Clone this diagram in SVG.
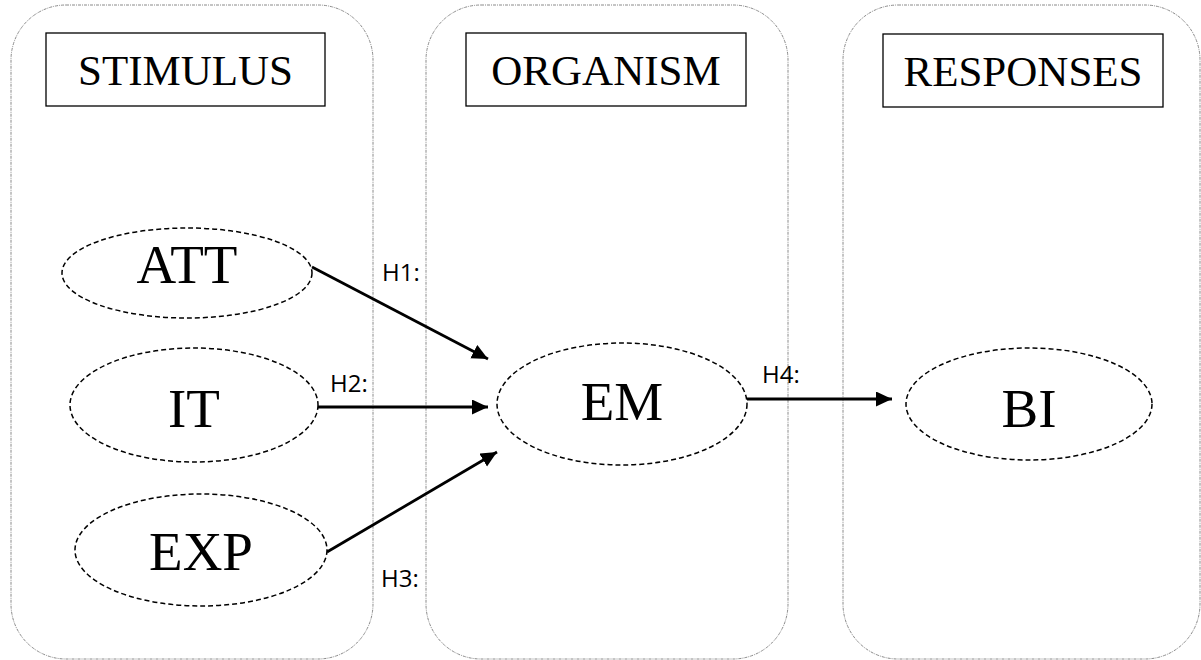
<svg xmlns="http://www.w3.org/2000/svg" width="1201" height="660" viewBox="0 0 1201 660">
<style>
.panel{fill:none;stroke:#8a8a8a;stroke-width:1;stroke-dasharray:3 1 1 1}
.tbox{fill:#fff;stroke:#000;stroke-width:1.3}
.ttl{font-family:"Liberation Serif",serif;font-size:43px;fill:#000;text-anchor:middle}
.ell{fill:#fff;stroke:#000;stroke-width:1.5;stroke-dasharray:5 3}
.lbl{font-family:"Liberation Serif",serif;font-size:55px;fill:#000;text-anchor:middle}
.arr{stroke:#000;stroke-width:2.8;fill:none;marker-end:url(#ah)}
.h{font-family:"Open Sans",sans-serif;font-size:24px;fill:#000}
</style>
<defs>
<marker id="ah" markerUnits="userSpaceOnUse" markerWidth="17" markerHeight="16" refX="16" refY="7.5" orient="auto">
<path d="M0,0 L16,7.5 L0,15 z" fill="#000"/>
</marker>
</defs>
<rect width="1201" height="660" fill="#fff"/>
<g id="panels">
<rect class="panel" x="11" y="5" width="362" height="654" rx="55" ry="55"/>
<rect class="panel" x="426" y="5" width="362" height="654" rx="55" ry="55"/>
<rect class="panel" x="843" y="5" width="357" height="654" rx="55" ry="55"/>
</g>
<g id="title-stimulus">
<rect class="tbox" x="46" y="33" width="279" height="73"/>
<text class="ttl" x="185.5" y="85">STIMULUS</text>
</g>
<g id="title-organism">
<rect class="tbox" x="466" y="33" width="280" height="73"/>
<text class="ttl" x="606" y="85">ORGANISM</text>
</g>
<g id="title-responses">
<rect class="tbox" x="883" y="34" width="280" height="73"/>
<text class="ttl" x="1023" y="86">RESPONSES</text>
</g>
<g id="connectors">
<line class="arr" x1="312" y1="267" x2="488" y2="359"/>
<line class="arr" x1="318" y1="407" x2="488" y2="407"/>
<line class="arr" x1="327" y1="552" x2="497" y2="452"/>
<line class="arr" x1="747" y1="399" x2="892" y2="399"/>
<text class="h" x="382" y="281">H1:</text>
<text class="h" x="330" y="392">H2:</text>
<text class="h" x="381" y="587">H3:</text>
<text class="h" x="762" y="383">H4:</text>
</g>
<g id="node-att">
<ellipse class="ell" cx="187" cy="273" rx="125" ry="45"/>
<text class="lbl" x="187" y="283">ATT</text>
</g>
<g id="node-it">
<ellipse class="ell" cx="194" cy="405" rx="124" ry="57"/>
<text class="lbl" x="194" y="427">IT</text>
</g>
<g id="node-exp">
<ellipse class="ell" cx="201" cy="550" rx="126" ry="56"/>
<text class="lbl" x="201" y="570">EXP</text>
</g>
<g id="node-em">
<ellipse class="ell" cx="622" cy="404" rx="125" ry="61"/>
<text class="lbl" x="622" y="420">EM</text>
</g>
<g id="node-bi">
<ellipse class="ell" cx="1029" cy="404" rx="123" ry="56"/>
<text class="lbl" x="1029" y="427">BI</text>
</g>
</svg>
